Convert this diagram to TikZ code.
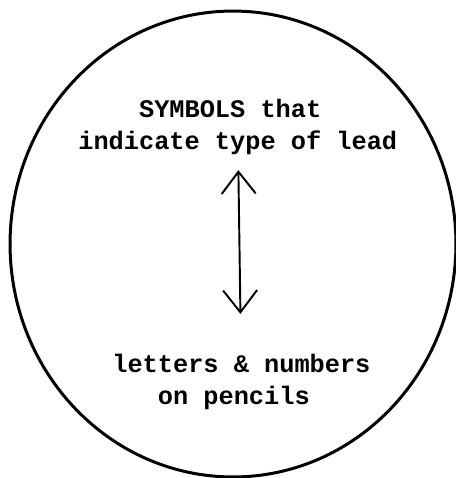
\documentclass[tikz,border=0pt]{standalone}
\usepackage{fontspec}
\setmonofont{Liberation Mono}
\usetikzlibrary{arrows.meta, shapes.geometric}

\begin{document}
\begin{tikzpicture}[
    x=0.02cm, y=-0.02cm,
    >={Straight Barb[length=4.4mm, width=6.8mm]},
    frame/.style={ellipse, draw, line width=1.7pt, inner sep=0pt,
        minimum width=8.92cm, minimum height=9.32cm},
    txt/.style={font=\ttfamily\bfseries\fontsize{14.4}{18.2}\selectfont,
        align=left, inner sep=0pt},
    arr/.style={<->, line width=1.1pt},
]
\useasboundingbox (0,0) rectangle (456,478);

% --- outer circle ---
\node[frame] (ring) at (233,244) {};

% --- labels ---
\node[txt, anchor=west] (symbols) at (78,127)
    {\phantom{0000}SYMBOLS that\\indicate type of lead};
\node[txt, anchor=west] (letters) at (112,382)
    {letters \& numbers\\\phantom{000}on pencils};

% --- two-way arrow between the labels ---
\draw[arr, shorten <=0.3cm, shorten >=0.8cm] (symbols) -- (letters);

\end{tikzpicture}
\end{document}
